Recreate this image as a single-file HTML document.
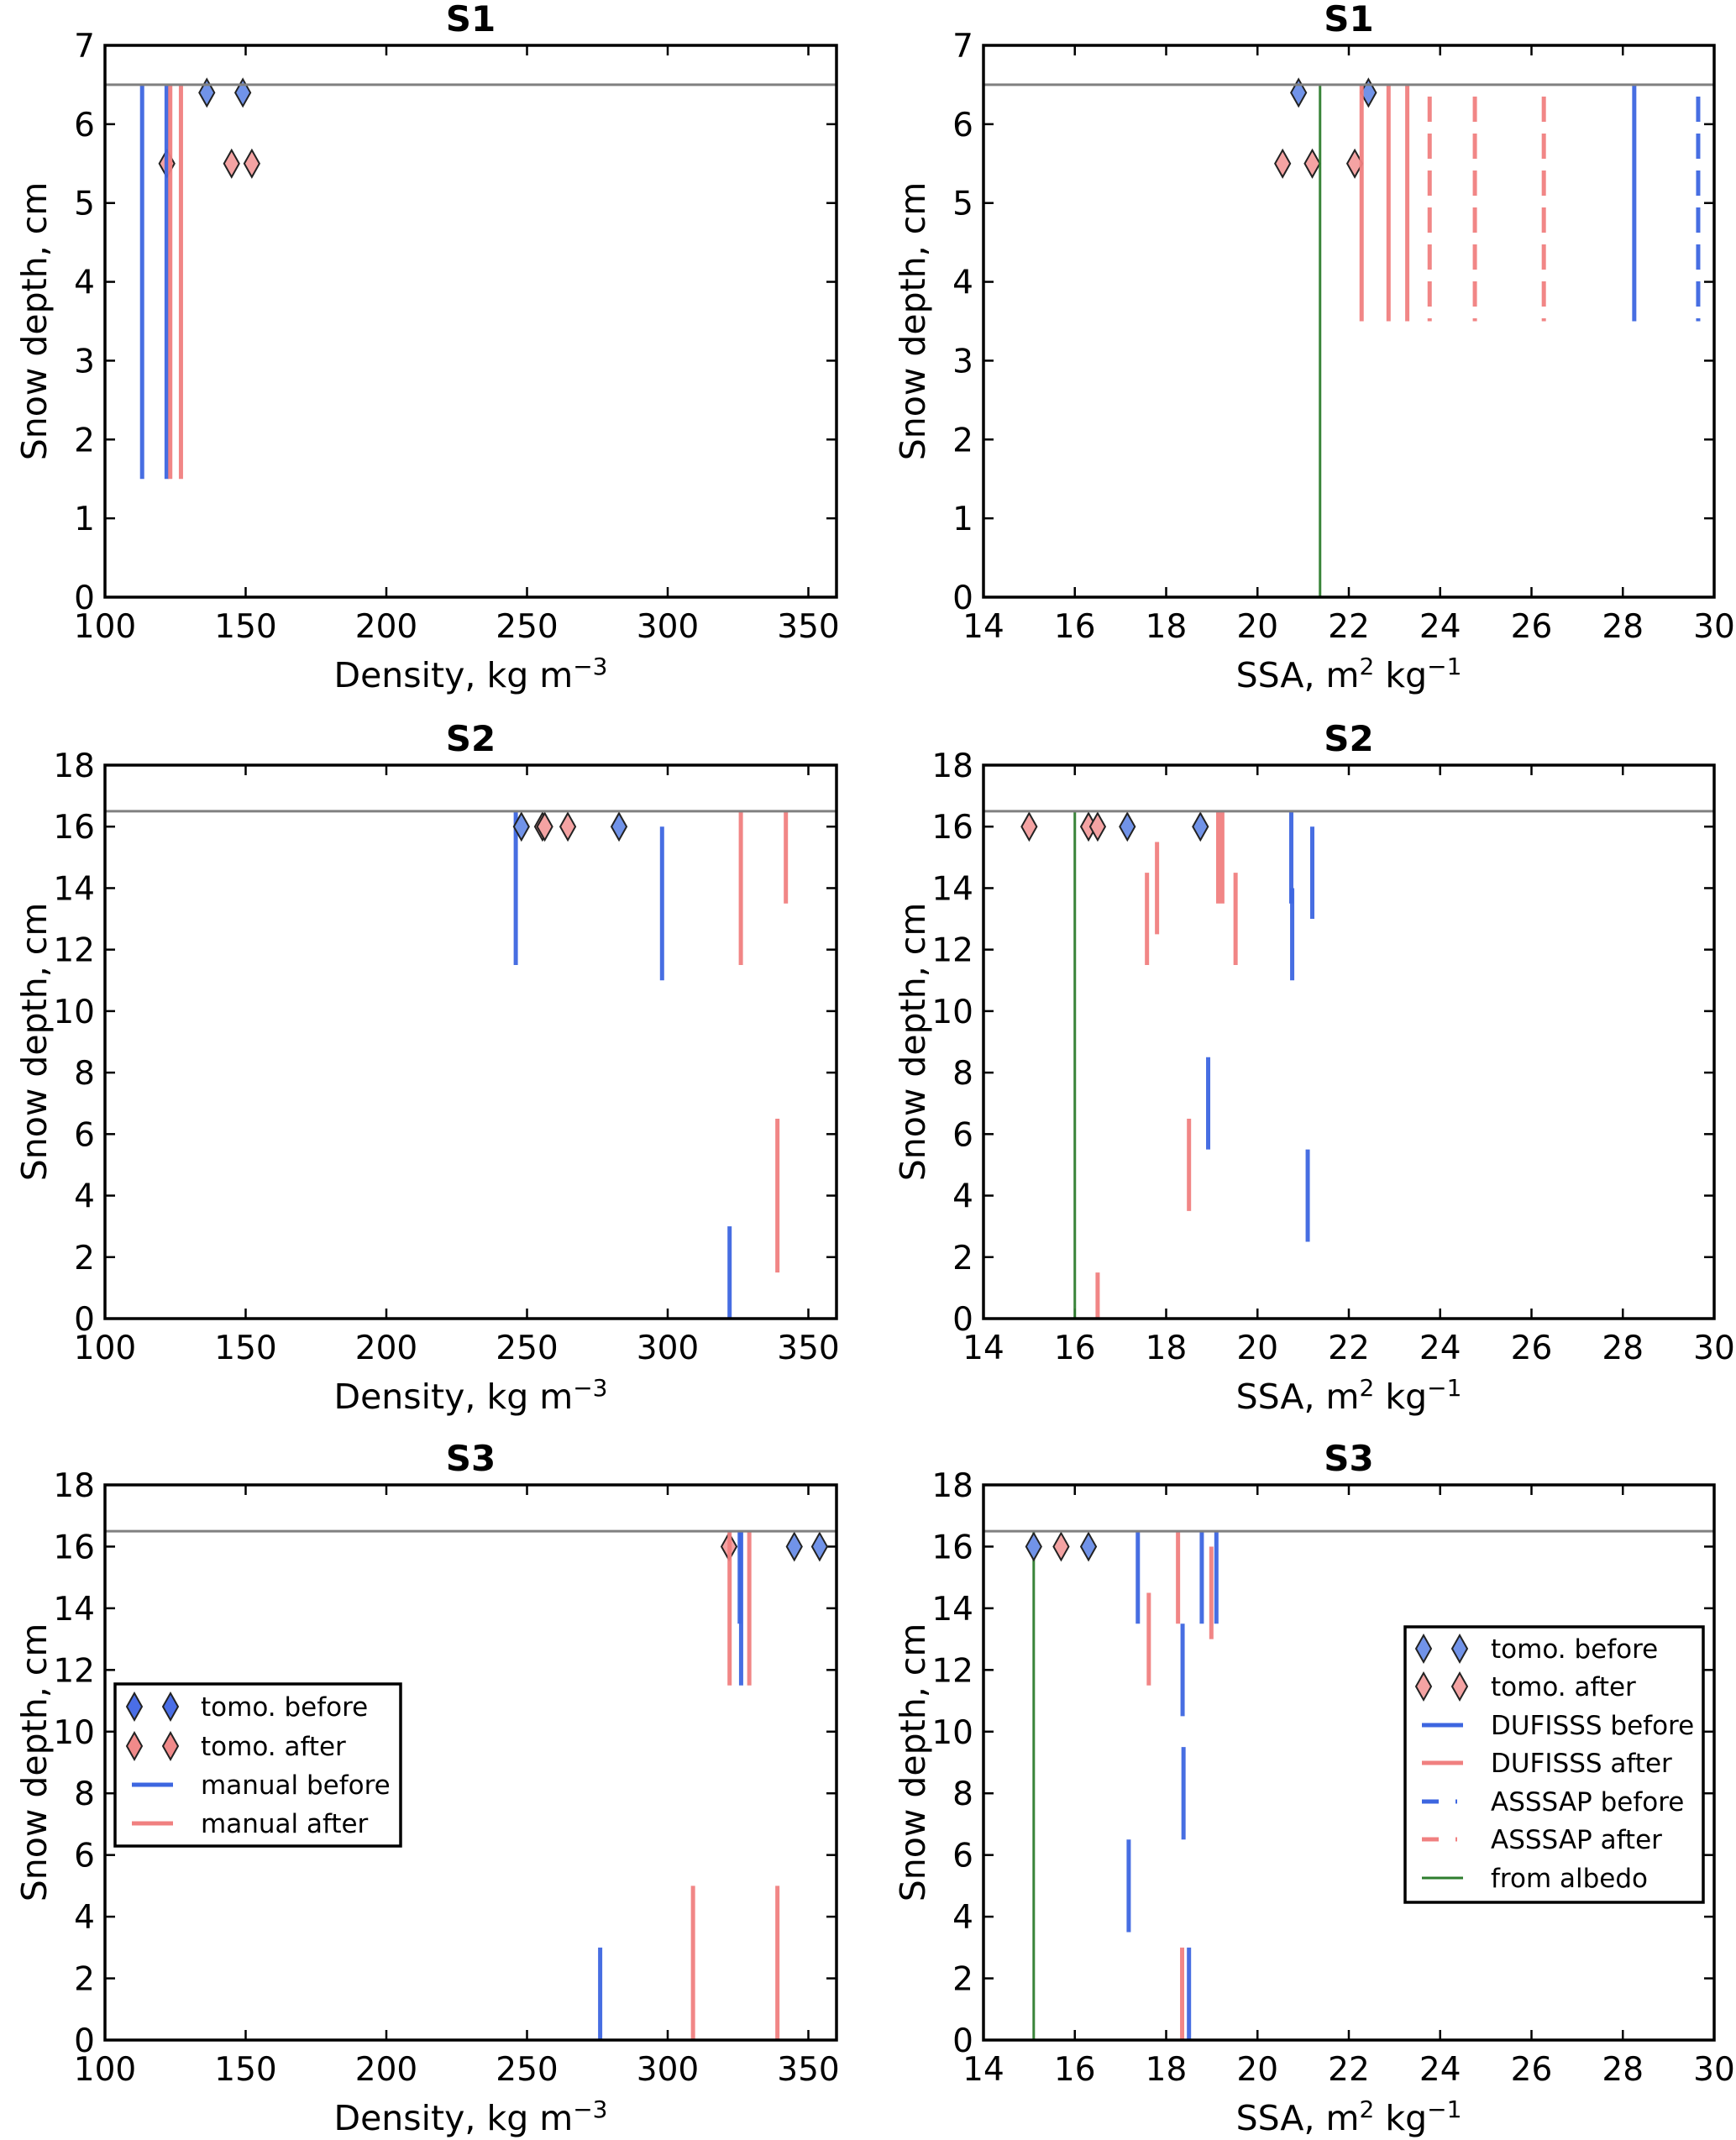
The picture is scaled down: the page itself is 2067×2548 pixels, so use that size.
<!DOCTYPE html>
<html><head><meta charset="utf-8"><style>
html,body{margin:0;padding:0;background:#fff}
svg{display:block;font-family:"DejaVu Sans","Liberation Sans",sans-serif}
</style></head><body>
<svg id="fig" width="2067" height="2548" viewBox="0 0 2067 2548" xmlns="http://www.w3.org/2000/svg"></svg>
<script>
// ---------- data ----------
// S1 density
const s1dManBeforeX=[113.2,121.9], s1dManBeforeLo=[1.5,1.5], s1dManBeforeHi=[6.5,6.5];
const s1dManAfterX=[123.2,127], s1dManAfterLo=[1.5,1.5], s1dManAfterHi=[6.5,6.5];
const s1dTomoBeforeX=[136.2,149], s1dTomoBeforeY=[6.4,6.4];
const s1dTomoAfterX=[122,145,152.2], s1dTomoAfterY=[5.5,5.5,5.5];
// S1 SSA
const s1sAlbedoX=[21.37], s1sAlbedoLo=[0], s1sAlbedoHi=[6.5];
const s1sDufAfterX=[22.28,22.87,23.28], s1sDufAfterLo=[3.5,3.5,3.5], s1sDufAfterHi=[6.5,6.5,6.5];
const s1sAssAfterX=[23.77,24.76,26.27], s1sAssAfterLo=[3.5,3.5,3.5], s1sAssAfterHi=[6.35,6.35,6.35];
const s1sDufBeforeX=[28.25], s1sDufBeforeLo=[3.5], s1sDufBeforeHi=[6.5];
const s1sAssBeforeX=[29.65], s1sAssBeforeLo=[3.5], s1sAssBeforeHi=[6.35];
const s1sTomoBeforeX=[20.9,22.43], s1sTomoBeforeY=[6.4,6.4];
const s1sTomoAfterX=[20.55,21.2,22.13], s1sTomoAfterY=[5.5,5.5,5.5];
// S2 density
const s2dManBeforeX=[246,298,322], s2dManBeforeLo=[11.5,11,0], s2dManBeforeHi=[16.5,16,3];
const s2dManAfterX=[326,342,339], s2dManAfterLo=[11.5,13.5,1.5], s2dManAfterHi=[16.5,16.5,6.5];
const s2dTomoBeforeX=[248,282.7], s2dTomoBeforeY=[16,16];
const s2dTomoAfterX=[255.5,256.3,264.5], s2dTomoAfterY=[16,16,16];
// S2 SSA
const s2sAlbedoX=[16.0], s2sAlbedoLo=[0], s2sAlbedoHi=[16.5];
const s2sDufAfterX=[17.58,17.8,19.14,19.23,19.52,18.5,16.5], s2sDufAfterLo=[11.5,12.5,13.5,13.5,11.5,3.5,0], s2sDufAfterHi=[14.5,15.5,16.5,16.5,14.5,6.5,1.5];
const s2sDufBeforeX=[20.74,20.76,21.2,18.92,21.1], s2sDufBeforeLo=[13.5,11,13,5.5,2.5], s2sDufBeforeHi=[16.5,14,16,8.5,5.5];
const s2sTomoBeforeX=[17.15,18.75], s2sTomoBeforeY=[16,16];
const s2sTomoAfterX=[15.0,16.3,16.5], s2sTomoAfterY=[16,16,16];
// S3 density
const s3dManBeforeX=[276,325.6,326.1], s3dManBeforeLo=[0,13.5,11.5], s3dManBeforeHi=[3,16.5,16.5];
const s3dManAfterX=[309,339,322,329], s3dManAfterLo=[0,0,11.5,11.5], s3dManAfterHi=[5,5,16.5,16.5];
const s3dTomoBeforeX=[345,354], s3dTomoBeforeY=[16,16];
const s3dTomoAfterX=[321.8], s3dTomoAfterY=[16];
// S3 SSA
const s3sAlbedoX=[15.1], s3sAlbedoLo=[0], s3sAlbedoHi=[16.5];
const s3sDufBeforeX=[17.38,18.36,18.38,18.78,19.1,17.18,18.5], s3sDufBeforeLo=[13.5,10.5,6.5,13.5,13.5,3.5,0], s3sDufBeforeHi=[16.5,13.5,9.5,16.5,16.5,6.5,3];
const s3sDufAfterX=[17.62,18.26,18.99,18.35], s3sDufAfterLo=[11.5,13.5,13,0], s3sDufAfterHi=[14.5,16.5,16,3];
const s3sTomoBeforeX=[15.1,16.3], s3sTomoBeforeY=[16,16];
const s3sTomoAfterX=[15.7], s3sTomoAfterY=[16];
// ticks
const densTicks=[100,150,200,250,300,350];
const ssaTicks=[14,16,18,20,22,24,26,28,30];
const yTicksS1=[0,1,2,3,4,5,6,7];
const yTicksS23=[0,2,4,6,8,10,12,14,16,18];
const surfaceS1=[6.5], surfaceS23=[16.5];

// ---------- drawing ----------
const NS="http://www.w3.org/2000/svg";
const svg=document.getElementById('fig');
function mk(tag,attrs,parent){const e=document.createElementNS(NS,tag);for(const k in attrs)e.setAttribute(k,attrs[k]);(parent||svg).appendChild(e);return e;}
const BLUE="#3d66e0", RED="#f08080", BLUEF="#7193e8", REDF="#f4a3a3", GREEN="#2e7d2e";

function panel(name,px0,px1,py0,py1,xmin,xmax,ymax,xt,yt,title,xlabel){
  const g=mk('g',{});
  
  
  const X=v=>px0+(v-xmin)/(xmax-xmin)*(px1-px0);
  const Y=v=>py1-(v)/ymax*(py1-py0);
  xt.forEach(v=>{const x=X(v);
    const t1=mk('line',{x1:x,x2:x,y1:py1,y2:py1-12,stroke:'#000','stroke-width':2.5},g);
    
    mk('line',{x1:x,x2:x,y1:py0,y2:py0+12,stroke:'#000','stroke-width':2.5},g);
    const tl=mk('text',{x:x,y:py1+48,'font-size':39,'text-anchor':'middle',fill:'#000'},g);
    
    tl.textContent=v;});
  yt.forEach(v=>{const y=Y(v);
    const t1=mk('line',{x1:px0,x2:px0+12,y1:y,y2:y,stroke:'#000','stroke-width':2.5},g);
    
    mk('line',{x1:px1,x2:px1-12,y1:y,y2:y,stroke:'#000','stroke-width':2.5},g);
    const tl=mk('text',{x:px0-12,y:y+14,'font-size':39,'text-anchor':'end',fill:'#000'},g);
    
    tl.textContent=v;});
  const tt=mk('text',{x:(px0+px1)/2,y:py0-17,'font-size':42,'font-weight':'bold','text-anchor':'middle'},g);
  
  tt.textContent=title;
  const xl=mk('text',{x:(px0+px1)/2,y:py1+107,'font-size':41,'text-anchor':'middle'},g);
  
  xl.innerHTML=xlabel;
  const yl=mk('text',{x:0,y:0,'font-size':41,'text-anchor':'middle',transform:`translate(${px0-70},${(py0+py1)/2}) rotate(-90)`},g);
  
  yl.textContent='Snow depth, cm';
  return {g,X,Y,px0,px1,py0,py1};
}
function diamonds(p,xs,ys,fill,name){
  xs.forEach((v,i)=>{const x=p.X(v),y=p.Y(ys[i]);
    const d=mk('polygon',{points:`${x},${y-16} ${x+9},${y} ${x},${y+16} ${x-9},${y}`,fill:fill,stroke:'#222','stroke-width':2},p.g);
    });
}
function segs(p,xs,lo,hi,color,w,dash,name){
  xs.forEach((v,i)=>{const x=p.X(v);
    const a={x1:x,x2:x,y1:p.Y(hi[i]),y2:p.Y(lo[i]),stroke:color,'stroke-width':w,'stroke-opacity':0.95};
    if(dash)a['stroke-dasharray']=dash;
    const l=mk('line',a,p.g);
    });
}
function surface(p,v){const y=p.Y(v[0]);
  const l=mk('line',{x1:p.px0,x2:p.px1,y1:y,y2:y,stroke:'#808080','stroke-width':3},p.g);
  }
function frame(p){const r=mk('rect',{x:p.px0,y:p.py0,width:p.px1-p.px0,height:p.py1-p.py0,fill:'none',stroke:'#000','stroke-width':3.5},p.g);
  }

const DL='Density, kg m<tspan dy="-15" font-size="28">−3</tspan>';
const SL='SSA, m<tspan dy="-15" font-size="28">2</tspan><tspan dy="15"> kg</tspan><tspan dy="-15" font-size="28">−1</tspan>';
const LX0=125,LX1=996,RX0=1171,RX1=2041;
const rows=[[54,711],[911,1570],[1768,2429]];

let p=panel('s1-density-panel',LX0,LX1,rows[0][0],rows[0][1],100,360,7,densTicks,yTicksS1,'S1',DL);
diamonds(p,s1dTomoBeforeX,s1dTomoBeforeY,BLUEF,'tomo-before-marker');
diamonds(p,s1dTomoAfterX,s1dTomoAfterY,REDF,'tomo-after-marker');
segs(p,s1dManBeforeX,s1dManBeforeLo,s1dManBeforeHi,BLUE,5,null,'manual-before-line');
segs(p,s1dManAfterX,s1dManAfterLo,s1dManAfterHi,RED,5,null,'manual-after-line');
surface(p,surfaceS1);frame(p);
p=panel('s1-ssa-panel',RX0,RX1,rows[0][0],rows[0][1],14,30,7,ssaTicks,yTicksS1,'S1',SL);
diamonds(p,s1sTomoBeforeX,s1sTomoBeforeY,BLUEF,'tomo-before-marker');
diamonds(p,s1sTomoAfterX,s1sTomoAfterY,REDF,'tomo-after-marker');
segs(p,s1sAlbedoX,s1sAlbedoLo,s1sAlbedoHi,GREEN,3,null,'albedo-line');
segs(p,s1sDufAfterX,s1sDufAfterLo,s1sDufAfterHi,RED,5,null,'dufisss-after-line');
segs(p,s1sAssAfterX,s1sAssAfterLo,s1sAssAfterHi,RED,5,'30 14','asssap-after-line');
segs(p,s1sDufBeforeX,s1sDufBeforeLo,s1sDufBeforeHi,BLUE,5,null,'dufisss-before-line');
segs(p,s1sAssBeforeX,s1sAssBeforeLo,s1sAssBeforeHi,BLUE,5,'30 14','asssap-before-line');
surface(p,surfaceS1);frame(p);
p=panel('s2-density-panel',LX0,LX1,rows[1][0],rows[1][1],100,360,18,densTicks,yTicksS23,'S2',DL);
segs(p,s2dManBeforeX,s2dManBeforeLo,s2dManBeforeHi,BLUE,5,null,'manual-before-line');
segs(p,s2dManAfterX,s2dManAfterLo,s2dManAfterHi,RED,5,null,'manual-after-line');
diamonds(p,s2dTomoBeforeX,s2dTomoBeforeY,BLUEF,'tomo-before-marker');
diamonds(p,s2dTomoAfterX,s2dTomoAfterY,REDF,'tomo-after-marker');
surface(p,surfaceS23);frame(p);
p=panel('s2-ssa-panel',RX0,RX1,rows[1][0],rows[1][1],14,30,18,ssaTicks,yTicksS23,'S2',SL);
segs(p,s2sAlbedoX,s2sAlbedoLo,s2sAlbedoHi,GREEN,3,null,'albedo-line');
segs(p,s2sDufAfterX,s2sDufAfterLo,s2sDufAfterHi,RED,5,null,'dufisss-after-line');
segs(p,s2sDufBeforeX,s2sDufBeforeLo,s2sDufBeforeHi,BLUE,5,null,'dufisss-before-line');
diamonds(p,s2sTomoBeforeX,s2sTomoBeforeY,BLUEF,'tomo-before-marker');
diamonds(p,s2sTomoAfterX,s2sTomoAfterY,REDF,'tomo-after-marker');
surface(p,surfaceS23);frame(p);
p=panel('s3-density-panel',LX0,LX1,rows[2][0],rows[2][1],100,360,18,densTicks,yTicksS23,'S3',DL);
diamonds(p,s3dTomoBeforeX,s3dTomoBeforeY,BLUEF,'tomo-before-marker');
diamonds(p,s3dTomoAfterX,s3dTomoAfterY,REDF,'tomo-after-marker');
segs(p,s3dManBeforeX,s3dManBeforeLo,s3dManBeforeHi,BLUE,5,null,'manual-before-line');
segs(p,s3dManAfterX,s3dManAfterLo,s3dManAfterHi,RED,5,null,'manual-after-line');
surface(p,surfaceS23);frame(p);
p=panel('s3-ssa-panel',RX0,RX1,rows[2][0],rows[2][1],14,30,18,ssaTicks,yTicksS23,'S3',SL);
segs(p,s3sAlbedoX,s3sAlbedoLo,s3sAlbedoHi,GREEN,3,null,'albedo-line');
segs(p,s3sDufBeforeX,s3sDufBeforeLo,s3sDufBeforeHi,BLUE,5,null,'dufisss-before-line');
segs(p,s3sDufAfterX,s3sDufAfterLo,s3sDufAfterHi,RED,5,null,'dufisss-after-line');
diamonds(p,s3sTomoBeforeX,s3sTomoBeforeY,BLUEF,'tomo-before-marker');
diamonds(p,s3sTomoAfterX,s3sTomoAfterY,REDF,'tomo-after-marker');
surface(p,surfaceS23);frame(p);

function legend(name,x0,y0,w,h,rowY,items,dx){
  const g=mk('g',{});
  
  
  mk('rect',{x:x0,y:y0,width:w,height:h,fill:'#fff',stroke:'#000','stroke-width':3.5},g);
  items.forEach((it,i)=>{const y=rowY[i];
    const e=mk('g',{},g);
    
    
    if(it.type==='d'){[x0+dx,x0+dx+43].forEach(cx=>mk('polygon',{points:`${cx},${y-16} ${cx+9},${y} ${cx},${y+16} ${cx-9},${y}`,fill:it.c,stroke:'#222','stroke-width':2},e));}
    else{const a={x1:x0+20,x2:x0+69,y1:y,y2:y,stroke:it.c,'stroke-width':it.w||5};
      if(it.dash)a['stroke-dasharray']=it.dash;mk('line',a,e);}
    const t=mk('text',{x:x0+102,y:y+11,'font-size':31},e);t.textContent=it.t;});
}
legend('legend-density',137,2005,340,193,[2032,2079,2125,2171],[
 {type:'d',c:'#4a6ee6',t:'tomo. before'},{type:'d',c:'#f08a8a',t:'tomo. after'},
 {type:'l',c:BLUE,t:'manual before'},{type:'l',c:RED,t:'manual after'}],23);
legend('legend-ssa',1673,1937,355,328,[1963,2008,2054,2099,2145,2190,2236],[
 {type:'d',c:BLUEF,t:'tomo. before'},{type:'d',c:REDF,t:'tomo. after'},
 {type:'l',c:BLUE,t:'DUFISSS before'},{type:'l',c:RED,t:'DUFISSS after'},
 {type:'l',c:BLUE,dash:'20 20 2 20',t:'ASSSAP before'},{type:'l',c:RED,dash:'20 20 2 20',t:'ASSSAP after'},
 {type:'l',c:GREEN,w:3,t:'from albedo'}],22);
</script>
</body></html>
